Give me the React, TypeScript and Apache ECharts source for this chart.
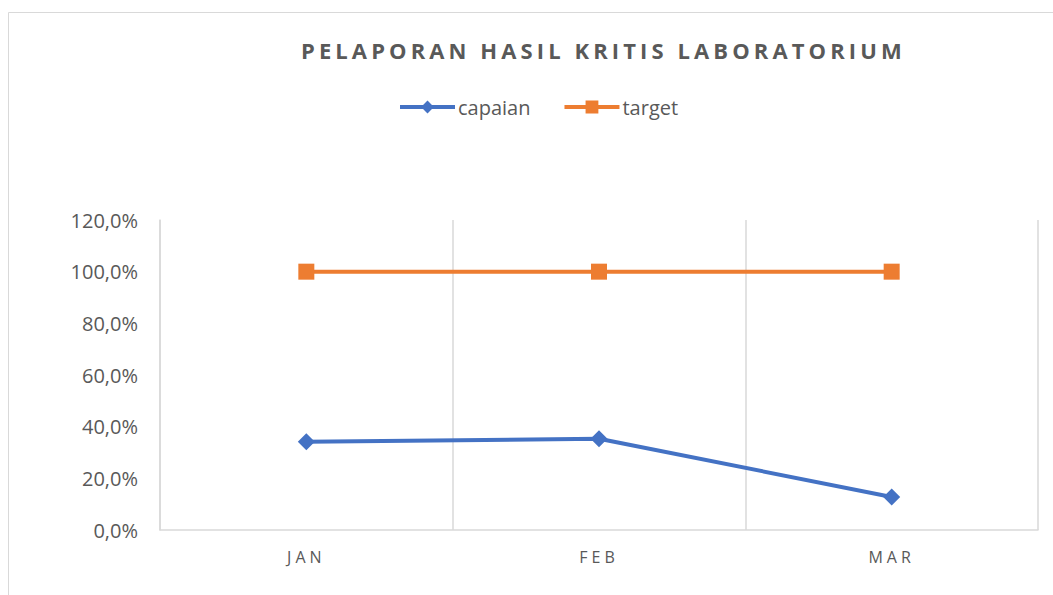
import React, { useEffect, useRef } from "react";
import * as echarts from "echarts";

const TITLE = "PELAPORAN HASIL KRITIS LABORATORIUM";
const categories = ["JAN", "FEB", "MAR"];
const capaian = [0.342, 0.353, 0.128];
const target = [1.0, 1.0, 1.0];
const yTicks = { min: 0, max: 1.2, interval: 0.2 };

const fmtPct = (v: number) => (v * 100).toFixed(1).replace(".", ",") + "%";

export default function App() {
  const ref = useRef<HTMLDivElement>(null);
  useEffect(() => {
    if (!ref.current) return;
    const chart = echarts.init(ref.current, undefined, { renderer: "svg" });
    const font = "'Open Sans', sans-serif";
    chart.setOption({
      animation: false,
      backgroundColor: "#ffffff",
      title: {
        text: TITLE,
        left: 301,
        top: 39,
        padding: 0,
        textStyle: { fontFamily: font, fontSize: 22, fontWeight: "bold", color: "#595959" },
      },
      legend: {
        left: 398,
        top: 97,
        itemWidth: 55,
        itemHeight: 16,
        itemGap: 32,
        padding: 0,
        lineStyle: { width: 4 },
        textStyle: { fontFamily: font, fontSize: 20, color: "#595959", padding: [0, 0, 0, -2] },
        data: ["capaian", "target"],
      },
      graphic: [
        {
          type: "rect",
          shape: { x: 8.5, y: 12.5, width: 1200, height: 1000 },
          style: { fill: "none", stroke: "#D9D9D9", lineWidth: 1 },
          silent: true,
        },
      ],
      grid: { left: 160, right: 15, top: 220, bottom: 65 },
      xAxis: {
        type: "category",
        data: categories,
        boundaryGap: true,
        axisLine: { show: true, lineStyle: { color: "#D9D9D9", width: 1.5 } },
        axisTick: { show: false },
        splitLine: { show: true, lineStyle: { color: "#D9D9D9", width: 1.5 } },
        axisLabel: { fontFamily: font, fontSize: 16, color: "#595959", margin: 19 },
      },
      yAxis: {
        type: "value",
        min: yTicks.min,
        max: yTicks.max,
        interval: yTicks.interval,
        axisLine: { show: true, lineStyle: { color: "#D9D9D9", width: 1.5 } },
        axisTick: { show: false },
        splitLine: { show: false },
        axisLabel: { fontFamily: font, fontSize: 20, color: "#595959", margin: 22, formatter: fmtPct },
      },
      series: [
        {
          name: "capaian",
          type: "line",
          data: capaian,
          symbol: "diamond",
          symbolSize: 17,
          color: "#4472C4",
          lineStyle: { width: 4, color: "#4472C4" },
          itemStyle: { color: "#4472C4" },
        },
        {
          name: "target",
          type: "line",
          data: target,
          symbol: "rect",
          symbolSize: 16,
          color: "#ED7D31",
          lineStyle: { width: 4, color: "#ED7D31" },
          itemStyle: { color: "#ED7D31" },
        },
      ],
    });
    const spacing = () => {
      const root = ref.current;
      if (!root) return;
      root.querySelectorAll("text").forEach((t) => {
        const s = (t.textContent || "").trim();
        if (s === TITLE) (t as SVGTextElement).style.letterSpacing = "4.1px";
        else if (categories.includes(s)) (t as SVGTextElement).style.letterSpacing = "4px";
      });
    };
    spacing();
    chart.on("finished", spacing);
    return () => chart.dispose();
  }, []);
  return (
    <div
      ref={ref}
      style={{ position: "absolute", left: 0, top: 0, width: 1053, height: 595 }}
    />
  );
}
